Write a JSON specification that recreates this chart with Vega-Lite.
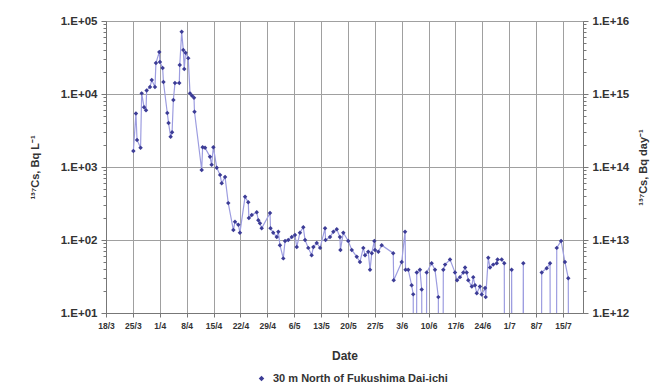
{
  "$schema": "https://vega.github.io/schema/vega-lite/v6.json",
  "width": 477,
  "height": 292,
  "autosize": {"type": "none"},
  "padding": {"left": 106, "top": 21, "right": 69, "bottom": 74},
  "background": "white",
  "config": {
    "view": {"stroke": "#8c8c8c", "strokeWidth": 1},
    "font": "Liberation Sans",
    "axis": {
      "labelFont": "Liberation Sans",
      "labelFontWeight": "bold",
      "labelColor": "#333333",
      "titleFont": "Liberation Sans",
      "titleFontWeight": "bold",
      "titleColor": "#333333",
      "domainColor": "#777777",
      "tickColor": "#777777",
      "gridColor": "#a0a0a0",
      "gridWidth": 1
    }
  },
  "layer": [
    {
      "data": {
        "values": [
          {"date": "2011-03-25T03:00", "cs": 1660},
          {"date": "2011-03-25T19:00", "cs": 5400},
          {"date": "2011-03-26T02:00", "cs": 2350},
          {"date": "2011-03-27T00:00", "cs": 1830},
          {"date": "2011-03-27T07:00", "cs": 10200},
          {"date": "2011-03-27T22:00", "cs": 6600},
          {"date": "2011-03-28T10:00", "cs": 6000},
          {"date": "2011-03-28T14:00", "cs": 11200},
          {"date": "2011-03-29T11:00", "cs": 12500},
          {"date": "2011-03-29T22:00", "cs": 15500},
          {"date": "2011-03-30T18:00", "cs": 12500},
          {"date": "2011-03-31T00:00", "cs": 26500},
          {"date": "2011-03-31T21:00", "cs": 37700},
          {"date": "2011-04-01T01:00", "cs": 27500},
          {"date": "2011-04-01T18:00", "cs": 22700},
          {"date": "2011-04-01T23:00", "cs": 14600},
          {"date": "2011-04-02T23:00", "cs": 5500},
          {"date": "2011-04-03T07:00", "cs": 4000},
          {"date": "2011-04-03T20:00", "cs": 2600},
          {"date": "2011-04-04T05:00", "cs": 3000},
          {"date": "2011-04-04T13:00", "cs": 8300},
          {"date": "2011-04-04T23:00", "cs": 14100},
          {"date": "2011-04-06T02:00", "cs": 14100},
          {"date": "2011-04-06T05:00", "cs": 25000},
          {"date": "2011-04-06T17:00", "cs": 71000},
          {"date": "2011-04-07T03:00", "cs": 40000},
          {"date": "2011-04-07T09:00", "cs": 22000},
          {"date": "2011-04-07T17:00", "cs": 36700},
          {"date": "2011-04-08T10:00", "cs": 31000},
          {"date": "2011-04-08T21:00", "cs": 10200},
          {"date": "2011-04-09T09:00", "cs": 9500},
          {"date": "2011-04-09T22:00", "cs": 8900},
          {"date": "2011-04-10T01:00", "cs": 5700},
          {"date": "2011-04-11T22:00", "cs": 910},
          {"date": "2011-04-12T04:00", "cs": 1870},
          {"date": "2011-04-12T19:00", "cs": 1830},
          {"date": "2011-04-14T02:00", "cs": 1380},
          {"date": "2011-04-14T12:00", "cs": 1070},
          {"date": "2011-04-14T23:00", "cs": 1870},
          {"date": "2011-04-15T20:00", "cs": 980},
          {"date": "2011-04-16T17:00", "cs": 780},
          {"date": "2011-04-17T03:00", "cs": 600},
          {"date": "2011-04-18T00:00", "cs": 730},
          {"date": "2011-04-18T20:00", "cs": 320},
          {"date": "2011-04-20T04:00", "cs": 137},
          {"date": "2011-04-20T14:00", "cs": 178},
          {"date": "2011-04-21T11:00", "cs": 162},
          {"date": "2011-04-21T21:00", "cs": 126},
          {"date": "2011-04-23T05:00", "cs": 390},
          {"date": "2011-04-24T01:00", "cs": 330},
          {"date": "2011-04-24T05:00", "cs": 200},
          {"date": "2011-04-24T23:00", "cs": 220},
          {"date": "2011-04-26T06:00", "cs": 240},
          {"date": "2011-04-26T16:00", "cs": 186},
          {"date": "2011-04-27T02:00", "cs": 170},
          {"date": "2011-04-27T13:00", "cs": 145},
          {"date": "2011-04-29T17:00", "cs": 235},
          {"date": "2011-04-29T20:00", "cs": 145},
          {"date": "2011-04-30T13:00", "cs": 126},
          {"date": "2011-05-01T11:00", "cs": 110},
          {"date": "2011-05-01T21:00", "cs": 130},
          {"date": "2011-05-02T07:00", "cs": 85},
          {"date": "2011-05-03T04:00", "cs": 56},
          {"date": "2011-05-03T15:00", "cs": 97},
          {"date": "2011-05-04T11:00", "cs": 100},
          {"date": "2011-05-05T09:00", "cs": 110},
          {"date": "2011-05-06T05:00", "cs": 117},
          {"date": "2011-05-06T16:00", "cs": 80},
          {"date": "2011-05-07T12:00", "cs": 126},
          {"date": "2011-05-08T09:00", "cs": 150},
          {"date": "2011-05-08T20:00", "cs": 100},
          {"date": "2011-05-09T16:00", "cs": 78},
          {"date": "2011-05-10T13:00", "cs": 62},
          {"date": "2011-05-11T00:00", "cs": 80},
          {"date": "2011-05-11T21:00", "cs": 91},
          {"date": "2011-05-12T18:00", "cs": 78},
          {"date": "2011-05-14T01:00", "cs": 145},
          {"date": "2011-05-14T04:00", "cs": 100},
          {"date": "2011-05-15T08:00", "cs": 110},
          {"date": "2011-05-16T05:00", "cs": 130},
          {"date": "2011-05-17T02:00", "cs": 140},
          {"date": "2011-05-17T22:00", "cs": 110},
          {"date": "2011-05-18T01:00", "cs": 73},
          {"date": "2011-05-18T19:00", "cs": 126},
          {"date": "2011-05-20T02:00", "cs": 97},
          {"date": "2011-05-21T00:00", "cs": 73},
          {"date": "2011-05-22T07:00", "cs": 59},
          {"date": "2011-05-23T03:00", "cs": 50},
          {"date": "2011-05-24T00:00", "cs": 78},
          {"date": "2011-05-24T11:00", "cs": 62},
          {"date": "2011-05-25T07:00", "cs": 69},
          {"date": "2011-05-25T18:00", "cs": 39},
          {"date": "2011-05-26T05:00", "cs": 66},
          {"date": "2011-05-26T21:00", "cs": 97},
          {"date": "2011-05-27T01:00", "cs": 73},
          {"date": "2011-05-27T22:00", "cs": 69},
          {"date": "2011-05-28T19:00", "cs": 85},
          {"date": "2011-05-31T19:00", "cs": 66},
          {"date": "2011-05-31T22:00", "cs": 28},
          {"date": "2011-06-03T00:00", "cs": 50},
          {"date": "2011-06-03T21:00", "cs": 130},
          {"date": "2011-06-04T00:00", "cs": 39},
          {"date": "2011-06-04T17:00", "cs": 39},
          {"date": "2011-06-05T14:00", "cs": 24},
          {"date": "2011-06-06T00:00", "cs": 18},
          {"date": "2011-06-06T04:00", "cs": 0.01},
          {"date": "2011-06-06T18:00", "cs": 0.01},
          {"date": "2011-06-06T22:00", "cs": 36},
          {"date": "2011-06-07T18:00", "cs": 39},
          {"date": "2011-06-08T05:00", "cs": 21},
          {"date": "2011-06-08T09:00", "cs": 0.01},
          {"date": "2011-06-09T08:00", "cs": 0.01},
          {"date": "2011-06-09T12:00", "cs": 36},
          {"date": "2011-06-10T19:00", "cs": 48},
          {"date": "2011-06-11T16:00", "cs": 39},
          {"date": "2011-06-12T13:00", "cs": 16.5},
          {"date": "2011-06-12T17:00", "cs": 0.01},
          {"date": "2011-06-13T16:00", "cs": 0.01},
          {"date": "2011-06-13T20:00", "cs": 39},
          {"date": "2011-06-14T07:00", "cs": 46},
          {"date": "2011-06-15T14:00", "cs": 54},
          {"date": "2011-06-16T21:00", "cs": 36},
          {"date": "2011-06-17T10:00", "cs": 28},
          {"date": "2011-06-18T04:00", "cs": 31},
          {"date": "2011-06-19T01:00", "cs": 36},
          {"date": "2011-06-19T12:00", "cs": 42},
          {"date": "2011-06-19T22:00", "cs": 36},
          {"date": "2011-06-20T08:00", "cs": 28},
          {"date": "2011-06-21T06:00", "cs": 23},
          {"date": "2011-06-21T15:00", "cs": 31},
          {"date": "2011-06-22T02:00", "cs": 24},
          {"date": "2011-06-22T13:00", "cs": 18.6},
          {"date": "2011-06-23T09:00", "cs": 23},
          {"date": "2011-06-23T20:00", "cs": 17.9},
          {"date": "2011-06-24T17:00", "cs": 22},
          {"date": "2011-06-24T21:00", "cs": 16.5},
          {"date": "2011-06-25T13:00", "cs": 57},
          {"date": "2011-06-26T00:00", "cs": 42},
          {"date": "2011-06-26T20:00", "cs": 46},
          {"date": "2011-06-27T18:00", "cs": 48},
          {"date": "2011-06-27T23:00", "cs": 54},
          {"date": "2011-06-29T01:00", "cs": 54},
          {"date": "2011-06-29T17:00", "cs": 48},
          {"date": "2011-06-29T21:00", "cs": 0.01},
          {"date": "2011-07-01T11:00", "cs": 0.01},
          {"date": "2011-07-01T15:00", "cs": 39},
          {"date": "2011-07-01T19:00", "cs": 0.01},
          {"date": "2011-07-04T12:00", "cs": 0.01},
          {"date": "2011-07-04T16:00", "cs": 48},
          {"date": "2011-07-04T20:00", "cs": 0.01},
          {"date": "2011-07-09T07:00", "cs": 0.01},
          {"date": "2011-07-09T11:00", "cs": 36},
          {"date": "2011-07-10T18:00", "cs": 41},
          {"date": "2011-07-11T15:00", "cs": 48},
          {"date": "2011-07-11T19:00", "cs": 0.01},
          {"date": "2011-07-13T05:00", "cs": 0.01},
          {"date": "2011-07-13T09:00", "cs": 78},
          {"date": "2011-07-14T12:00", "cs": 97},
          {"date": "2011-07-15T12:00", "cs": 50},
          {"date": "2011-07-16T09:00", "cs": 30},
          {"date": "2011-07-16T13:00", "cs": 0.01}
        ]
      },
      "encoding": {
        "x": {
          "field": "date",
          "type": "temporal",
          "scale": {
            "domain": [
              {"year": 2011, "month": 3, "date": 18},
              {"year": 2011, "month": 7, "date": 20, "hours": 5}
            ]
          },
          "axis": {
            "title": "Date",
            "titleFontSize": 12,
            "titleY": 42,
            "titleBaseline": "middle",
            "format": "%-d/%-m",
            "labelAngle": 0,
            "labelFontSize": 8.5,
            "labelPadding": 4,
            "labelOverlap": false,
            "labelBound": false,
            "labelFlush": false,
            "tickSize": 4,
            "grid": true,
            "values": [
              {"year": 2011, "month": 3, "date": 18},
              {"year": 2011, "month": 3, "date": 25},
              {"year": 2011, "month": 4, "date": 1},
              {"year": 2011, "month": 4, "date": 8},
              {"year": 2011, "month": 4, "date": 15},
              {"year": 2011, "month": 4, "date": 22},
              {"year": 2011, "month": 4, "date": 29},
              {"year": 2011, "month": 5, "date": 6},
              {"year": 2011, "month": 5, "date": 13},
              {"year": 2011, "month": 5, "date": 20},
              {"year": 2011, "month": 5, "date": 27},
              {"year": 2011, "month": 6, "date": 3},
              {"year": 2011, "month": 6, "date": 10},
              {"year": 2011, "month": 6, "date": 17},
              {"year": 2011, "month": 6, "date": 24},
              {"year": 2011, "month": 7, "date": 1},
              {"year": 2011, "month": 7, "date": 8},
              {"year": 2011, "month": 7, "date": 15}
            ]
          }
        },
        "y": {
          "field": "cs",
          "type": "quantitative",
          "scale": {"type": "log", "domain": [10, 100000]},
          "axis": {
            "orient": "left",
            "title": "¹³⁷Cs, Bq L⁻¹",
            "titleFontSize": 11,
            "titleAngle": 270,
            "titleX": -71,
            "titleY": 146,
            "titleAlign": "center",
            "titleBaseline": "middle",
            "labelFontSize": 11.5,
            "labelPadding": 4,
            "labelOverlap": false,
            "labelBound": false,
            "labelFlush": false,
            "values": [10, 20, 30, 40, 50, 60, 70, 80, 90, 100, 200, 300, 400, 500, 600, 700, 800, 900, 1000, 2000, 3000, 4000, 5000, 6000, 7000, 8000, 9000, 10000, 20000, 30000, 40000, 50000, 60000, 70000, 80000, 90000, 100000],
            "labelExpr": "abs(log(datum.value)/LN10 - round(log(datum.value)/LN10)) < 0.001 ? '1.E+0' + round(log(datum.value)/LN10) : ''",
            "grid": true,
            "gridOpacity": {"condition": {"test": "abs(log(datum.value)/LN10 - round(log(datum.value)/LN10)) < 0.001", "value": 1}, "value": 0},
            "tickSize": {"condition": {"test": "abs(log(datum.value)/LN10 - round(log(datum.value)/LN10)) < 0.001", "value": 5}, "value": 3}
          }
        }
      },
      "layer": [
        {
          "mark": {"type": "line", "color": "#9d9de0", "strokeWidth": 1.2, "clip": true},
          "encoding": {}
        },
        {
          "mark": {"type": "point", "shape": "diamond", "filled": true, "size": 20, "opacity": 1, "clip": true},
          "encoding": {
            "color": {
              "datum": "30 m North of Fukushima Dai-ichi",
              "type": "nominal",
              "scale": {"range": ["#3c3c96"]},
              "legend": {
                "title": null,
                "orient": "none",
                "legendX": 150,
                "legendY": 352,
                "symbolType": "diamond",
                "symbolSize": 30,
                "labelFont": "Liberation Sans",
                "labelFontWeight": "bold",
                "labelFontSize": 11,
                "labelColor": "#333333",
                "labelOffset": 6,
                "labelLimit": 400
              }
            }
          }
        }
      ]
    },
    {
      "data": {"values": [{"r": 1e12}, {"r": 1e16}]},
      "mark": {"type": "rule", "opacity": 0},
      "encoding": {
        "y": {
          "field": "r",
          "type": "quantitative",
          "scale": {"type": "log", "domain": [1e12, 1e16]},
          "axis": {
            "orient": "right",
            "title": "¹³⁷Cs, Bq day⁻¹",
            "titleFontSize": 11,
            "titleAngle": 270,
            "titleX": 60,
            "titleY": 146,
            "titleAlign": "center",
            "titleBaseline": "middle",
            "labelFontSize": 11.5,
            "labelPadding": 4,
            "labelOverlap": false,
            "labelBound": false,
            "labelFlush": false,
            "grid": false,
            "values": [1e12, 2e12, 3e12, 4e12, 5e12, 6e12, 7e12, 8e12, 9e12, 1e13, 2e13, 3e13, 4e13, 5e13, 6e13, 7e13, 8e13, 9e13, 1e14, 2e14, 3e14, 4e14, 5e14, 6e14, 7e14, 8e14, 9e14, 1e15, 2e15, 3e15, 4e15, 5e15, 6e15, 7e15, 8e15, 9e15, 1e16],
            "labelExpr": "abs(log(datum.value)/LN10 - round(log(datum.value)/LN10)) < 0.001 ? '1.E+' + round(log(datum.value)/LN10) : ''",
            "tickSize": {"condition": {"test": "abs(log(datum.value)/LN10 - round(log(datum.value)/LN10)) < 0.001", "value": 5}, "value": 3}
          }
        }
      }
    }
  ],
  "resolve": {"scale": {"y": "independent"}}
}
